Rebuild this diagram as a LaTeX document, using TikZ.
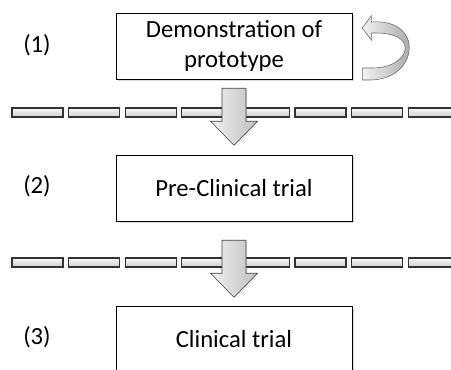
\documentclass[tikz,border=0pt]{standalone}
\usepackage{fontspec}
\setmainfont{Carlito}
\usetikzlibrary{calc,shadows}

\begin{document}
\begin{tikzpicture}[x=0.75pt, y=-0.75pt]
  \tikzstyle{stage} = [draw, fill=white, minimum width=177pt, minimum height=49.5pt,
    align=center, font=\fontsize{18.5}{22.5}\selectfont,
    drop shadow={shadow xshift=1.2pt, shadow yshift=-1.2pt, opacity=0.3}]
  \tikzstyle{number} = [font=\fontsize{18.5}{22.5}\selectfont]
  \tikzstyle{dashseg} = [draw=black!80, line width=0.8pt, top color=gray!5, bottom color=gray!40]
  \tikzstyle{downarrow} = [draw=black!75, left color=gray!12, right color=gray!50,
    drop shadow={shadow xshift=0.8pt, shadow yshift=-0.8pt, opacity=0.2}]
  \tikzstyle{looparrow} = [draw=black!60, left color=gray!10, right color=gray!65]

  \useasboundingbox (0,0) rectangle (451,370);

  % Draw stages
  \node[stage] (demo) at (234,46) {Demonstration of\\prototype};
  \node[stage] (preclin) at (234,188) {Pre-Clinical trial};
  \node[stage] (clin) at (234,339) {Clinical trial};

  % Draw numbers
  \node[number] (n1) at (37,45) {(1)};
  \node[number] (n2) at (37,186) {(2)};
  \node[number] (n3) at (37,337) {(3)};

  % Dashed separators
  \foreach \y in {108, 258}
    \foreach \i in {0, ..., 7}
      \draw[dashseg] ({12 + 56.6*\i}, \y) rectangle +(51, 9);

  % Arrows between stages
  \coordinate (a1) at ($(demo.south)+(0,9)$);
  \coordinate (a2) at ($(preclin.south)+(0,19)$);
  \foreach \a in {a1, a2}
    \draw[downarrow, shift={(\a)}] (-12,0) -- (12,0) -- (12,33) -- (23.5,33)
      -- (0,57) -- (-23.5,33) -- (-12,33) -- cycle;

  % Loop back to prototype
  \begin{scope}[shift={(demo.east)}]
    \draw[looparrow] (10,-18) -- (19,-30) -- (19,-24)
      .. controls (43,-26) and (57,-14) .. (57,1)
      .. controls (57,22) and (38,34) .. (18,34) -- (10,34) -- (10,22) -- (20,22)
      .. controls (40,22) and (53,12) .. (53,2)
      .. controls (53,-8) and (40,-13) .. (24,-13) -- (19,-13) -- (19,-6) -- cycle;
  \end{scope}

\end{tikzpicture}
\end{document}
